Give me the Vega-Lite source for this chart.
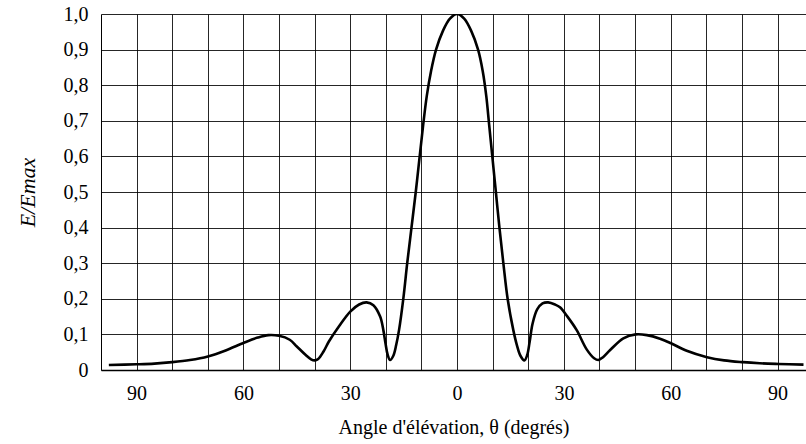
{
  "$schema": "https://vega.github.io/schema/vega-lite/v6.json",
  "width": 705,
  "height": 356,
  "autosize": {"type": "none"},
  "padding": {"left": 101, "top": 14, "right": 0, "bottom": 74},
  "background": "white",
  "config": {
    "view": {"stroke": null},
    "font": "Liberation Serif"
  },
  "data": {
    "values": [
      {"angle": -97.8, "ratio": 0.014},
      {"angle": -90, "ratio": 0.016},
      {"angle": -85, "ratio": 0.018},
      {"angle": -80, "ratio": 0.022},
      {"angle": -75, "ratio": 0.028},
      {"angle": -70, "ratio": 0.038},
      {"angle": -65, "ratio": 0.055},
      {"angle": -60, "ratio": 0.076},
      {"angle": -56, "ratio": 0.091},
      {"angle": -53, "ratio": 0.098},
      {"angle": -50, "ratio": 0.096},
      {"angle": -47, "ratio": 0.085},
      {"angle": -45, "ratio": 0.066},
      {"angle": -42.5, "ratio": 0.042},
      {"angle": -41, "ratio": 0.03},
      {"angle": -40, "ratio": 0.027},
      {"angle": -39, "ratio": 0.031},
      {"angle": -37.5, "ratio": 0.052},
      {"angle": -36, "ratio": 0.08},
      {"angle": -33, "ratio": 0.125},
      {"angle": -30, "ratio": 0.164},
      {"angle": -27.5, "ratio": 0.184},
      {"angle": -25.4, "ratio": 0.19},
      {"angle": -23.5, "ratio": 0.182},
      {"angle": -21.6, "ratio": 0.15},
      {"angle": -20.7, "ratio": 0.112},
      {"angle": -20.1, "ratio": 0.075},
      {"angle": -19.5, "ratio": 0.043},
      {"angle": -18.8, "ratio": 0.028},
      {"angle": -17.9, "ratio": 0.04},
      {"angle": -17.1, "ratio": 0.07},
      {"angle": -16.3, "ratio": 0.112},
      {"angle": -15.1, "ratio": 0.2},
      {"angle": -14.0, "ratio": 0.3},
      {"angle": -12.8, "ratio": 0.4},
      {"angle": -11.6, "ratio": 0.5},
      {"angle": -10.5, "ratio": 0.6},
      {"angle": -9.5, "ratio": 0.69},
      {"angle": -8.5, "ratio": 0.77},
      {"angle": -7.3, "ratio": 0.84},
      {"angle": -5.9, "ratio": 0.9},
      {"angle": -4.0, "ratio": 0.952},
      {"angle": -2.0, "ratio": 0.987},
      {"angle": 0, "ratio": 1.0},
      {"angle": 2.0, "ratio": 0.987},
      {"angle": 4.0, "ratio": 0.952},
      {"angle": 5.9, "ratio": 0.9},
      {"angle": 7.2, "ratio": 0.84},
      {"angle": 8.2, "ratio": 0.77},
      {"angle": 9.0, "ratio": 0.69},
      {"angle": 9.9, "ratio": 0.6},
      {"angle": 10.9, "ratio": 0.5},
      {"angle": 11.9, "ratio": 0.4},
      {"angle": 13.0, "ratio": 0.3},
      {"angle": 14.2, "ratio": 0.2},
      {"angle": 15.8, "ratio": 0.112},
      {"angle": 16.8, "ratio": 0.07},
      {"angle": 17.8, "ratio": 0.04},
      {"angle": 18.9, "ratio": 0.027},
      {"angle": 19.7, "ratio": 0.042},
      {"angle": 20.4, "ratio": 0.08},
      {"angle": 21.2, "ratio": 0.13},
      {"angle": 22.5, "ratio": 0.17},
      {"angle": 24, "ratio": 0.187},
      {"angle": 25.6, "ratio": 0.19},
      {"angle": 27.5, "ratio": 0.184},
      {"angle": 28.9, "ratio": 0.176},
      {"angle": 31, "ratio": 0.15},
      {"angle": 33.6, "ratio": 0.112},
      {"angle": 36.4, "ratio": 0.058},
      {"angle": 38.5, "ratio": 0.033},
      {"angle": 39.7, "ratio": 0.028},
      {"angle": 41, "ratio": 0.036},
      {"angle": 43, "ratio": 0.056},
      {"angle": 46.7, "ratio": 0.089},
      {"angle": 50.2, "ratio": 0.1},
      {"angle": 53.3, "ratio": 0.098},
      {"angle": 57, "ratio": 0.088},
      {"angle": 60.1, "ratio": 0.075},
      {"angle": 64.5, "ratio": 0.054},
      {"angle": 70.2, "ratio": 0.036},
      {"angle": 75, "ratio": 0.027},
      {"angle": 80.3, "ratio": 0.022},
      {"angle": 85, "ratio": 0.019},
      {"angle": 90.3, "ratio": 0.017},
      {"angle": 97.3, "ratio": 0.015}
    ]
  },
  "mark": {"type": "line", "color": "black", "strokeWidth": 2.6, "interpolate": "catmull-rom", "clip": true},
  "encoding": {
    "x": {
      "field": "angle",
      "type": "quantitative",
      "scale": {"domain": [-100, 98], "nice": false, "zero": false},
      "axis": {
        "values": [-90, -80, -70, -60, -50, -40, -30, -20, -10, 0, 10, 20, 30, 40, 50, 60, 70, 80, 90],
        "labelExpr": "datum.value % 30 == 0 ? abs(datum.value) + '' : ''",
        "title": "Angle d'élévation, θ (degrés)",
        "ticks": false,
        "labelPadding": 13,
        "labelFont": "Liberation Serif",
        "labelFontSize": 20,
        "labelColor": "black",
        "labelFlush": false,
        "labelOverlap": false,
        "titleFont": "Liberation Serif",
        "titleFontSize": 20,
        "titleFontWeight": "normal",
        "titleColor": "black",
        "titlePadding": 14,
        "domainColor": "black",
        "domainWidth": 1.5,
        "grid": true,
        "gridColor": "black",
        "gridWidth": 1,
        "gridOpacity": 0.85
      }
    },
    "y": {
      "field": "ratio",
      "type": "quantitative",
      "scale": {"domain": [0, 1], "nice": false},
      "axis": {
        "values": [0, 0.1, 0.2, 0.3, 0.4, 0.5, 0.6, 0.7, 0.8, 0.9, 1.0],
        "labelExpr": "datum.value == 0 ? '0' : replace(format(datum.value, '.1f'), '.', ',')",
        "title": "E/Emax",
        "ticks": false,
        "labelPadding": 13,
        "labelFont": "Liberation Serif",
        "labelFontSize": 20,
        "labelColor": "black",
        "labelFlush": false,
        "labelOverlap": false,
        "titleFont": "Liberation Serif",
        "titleFontSize": 22,
        "titleFontStyle": "italic",
        "titleFontWeight": "normal",
        "titleColor": "black",
        "titlePadding": 24,
        "domainColor": "black",
        "domainWidth": 1,
        "grid": true,
        "gridColor": "black",
        "gridWidth": 1,
        "gridOpacity": 0.85
      }
    }
  }
}
